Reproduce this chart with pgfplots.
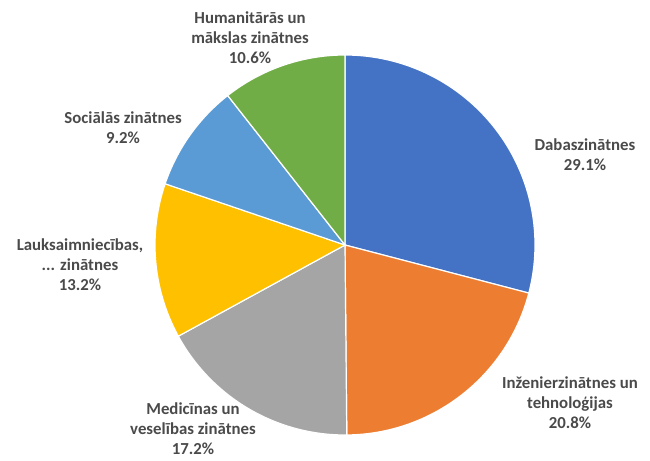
\documentclass[border=0pt]{standalone}
\usepackage{pgfplots}
\usepackage{pgfplotstable}
\pgfplotsset{compat=1.18}
\usepackage{fontspec}
\setmainfont{Carlito}

\definecolor{c1}{HTML}{4472C4}
\definecolor{c2}{HTML}{ED7D31}
\definecolor{c3}{HTML}{A5A5A5}
\definecolor{c4}{HTML}{FFC000}
\definecolor{c5}{HTML}{5B9BD5}
\definecolor{c6}{HTML}{70AD47}
\definecolor{txt}{HTML}{4A4A4A}

\tikzset{lbl/.style={font=\fontsize{16.8}{20}\selectfont\bfseries, text=txt, align=center}}

% share of each field, clockwise from 12 o'clock
\pgfplotstableread{
value color
29.1 c1
20.8 c2
17.2 c3
13.2 c4
9.2 c5
10.6 c6
}\piedata

\begin{document}
\begin{tikzpicture}
\begin{axis}[
    hide axis,
    x=190pt, y=190pt,
    xmin=-1.8158, xmax=1.6053,
    ymin=-1.1316, ymax=1.2895,
    clip=false,
]
\def\cum{0}
\pgfplotsforeachungrouped \i in {0,...,5} {
    \pgfplotstablegetelem{\i}{value}\of\piedata \let\v\pgfplotsretval
    \pgfplotstablegetelem{\i}{color}\of\piedata \let\c\pgfplotsretval
    \pgfmathsetmacro\a{90-\cum/100.1*360}
    \pgfmathsetmacro\b{90-(\cum+\v)/100.1*360}
    \edef\temp{\noexpand\fill[\c, draw=white, line width=1.2pt]
        (axis cs:0,0) -- (axis cs:{cos(\a)},{sin(\a)})
        arc[start angle=\a, end angle=\b, radius=190pt] -- cycle;}
    \temp
    \pgfmathsetmacro\cum{\cum+\v}
}
\node[lbl] at (axis cs:-0.50,1.089) {Humanitārās un\\mākslas zinātnes\\10.6\%};
\node[lbl] at (axis cs:1.263,0.474) {Dabaszinātnes\\29.1\%};
\node[lbl] at (axis cs:1.184,-0.832) {Inženierzinātnes un\\tehnoloģijas\\20.8\%};
\node[lbl] at (axis cs:-0.80,-0.968) {Medicīnas un\\veselības zinātnes\\17.2\%};
\node[lbl] at (axis cs:-1.395,-0.105) {Lauksaimniecības,\\... zinātnes\\13.2\%};
\node[lbl] at (axis cs:-1.168,0.616) {Sociālās zinātnes\\9.2\%};
\end{axis}
\pgfresetboundingbox
\path (current axis.south west) rectangle (current axis.north east);
\end{tikzpicture}
\end{document}
